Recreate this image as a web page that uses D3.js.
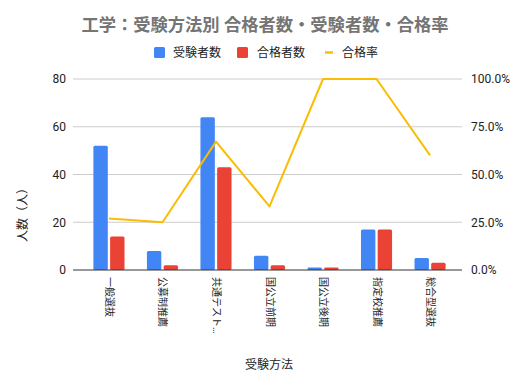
<!DOCTYPE html>
<html><head><meta charset="utf-8">
<script src="https://cdn.jsdelivr.net/npm/d3@7"></script>
<style>body{margin:0;background:#fff;}text{font-family:Roboto,"Noto Sans CJK JP",sans-serif;}</style>
</head><body>
<script>
const categories = ["一般選抜","公募制推薦","共通テスト…","国公立前期","国公立後期","指定校推薦","総合型選抜"];
const applicants = [52, 8, 64, 6, 1, 17, 5];
const passers = [14, 2, 43, 2, 1, 17, 3];
const passRate = [0.269, 0.25, 0.672, 0.333, 1.0, 1.0, 0.6];
const leftTicks = [0, 20, 40, 60, 80];
const rightTicks = [0, 0.25, 0.5, 0.75, 1.0];
const seriesNames = ["受験者数","合格者数","合格率"];
const colors = ["#4285F4","#EA4335","#FBBC04"];

const W = 529, H = 391;
const svg = d3.select("body").append("svg").attr("width", W).attr("height", H);
const gx0 = 73, gx1 = 462, plotTop = 79, plotBottom = 270;

const x = d3.scaleBand().domain(categories).range([82.2, 456.8]).paddingInner(0).paddingOuter(0);
const yL = d3.scaleLinear().domain([0, 80]).range([plotBottom, plotTop]);
const yR = d3.scaleLinear().domain([0, 1]).range([plotBottom, plotTop]);

// gridlines
svg.append("g").selectAll("line").data(leftTicks.filter(d => d !== 0)).join("line")
  .attr("x1", gx0).attr("x2", gx1).attr("y1", d => yL(d)).attr("y2", d => yL(d))
  .attr("stroke", "#cccccc").attr("stroke-width", 1);

// left axis
const axL = d3.axisLeft(yL).tickValues(leftTicks).tickSize(0).tickPadding(6);
const gL = svg.append("g").attr("transform", `translate(${gx0},0)`).call(axL);
gL.select(".domain").remove();
gL.selectAll("text").attr("font-size", 12).attr("fill", "#222").attr("x", -7);

// right axis
const axR = d3.axisRight(yR).tickValues(rightTicks).tickSize(0).tickFormat(d => (d*100).toFixed(1) + "%");
const gR = svg.append("g").attr("transform", `translate(${gx1},0)`).call(axR);
gR.select(".domain").remove();
gR.selectAll("text").attr("font-size", 12).attr("fill", "#222").attr("x", 9);

// bars
const bw = 14.4, gap = 2.3;
const bars = svg.append("g");
bars.selectAll(".a").data(categories).join("rect")
  .attr("x", (d) => x(d) + x.bandwidth()/2 - gap/2 - bw)
  .attr("y", (d, i) => yL(applicants[i]))
  .attr("width", bw).attr("height", (d, i) => plotBottom - yL(applicants[i]))
  .attr("fill", colors[0]).attr("rx", 1.5);
bars.selectAll(".p").data(categories).join("rect")
  .attr("x", (d) => x(d) + x.bandwidth()/2 + gap/2)
  .attr("y", (d, i) => yL(passers[i]))
  .attr("width", bw).attr("height", (d, i) => plotBottom - yL(passers[i]))
  .attr("fill", colors[1]).attr("rx", 1.5);

// baseline
svg.append("line").attr("x1", gx0).attr("x2", gx1).attr("y1", plotBottom).attr("y2", plotBottom)
  .attr("stroke", "#333").attr("stroke-width", 1);

// line
const line = d3.line().x((d, i) => x(categories[i]) + x.bandwidth()/2).y(d => yR(d));
svg.append("path").datum(passRate).attr("d", line)
  .attr("fill", "none").attr("stroke", colors[2]).attr("stroke-width", 2).attr("stroke-linejoin", "round");

// x labels
svg.append("g").selectAll("text").data(categories).join("text")
  .attr("transform", d => `translate(${x(d) + x.bandwidth()/2 - 3},277) rotate(90)`)
  .attr("font-size", 10).attr("fill", "#222").attr("text-anchor", "start")
  .text(d => d);

// title
svg.append("text").attr("x", 265).attr("y", 31).attr("text-anchor", "middle")
  .attr("font-size", 17.3).attr("font-weight", "bold").attr("fill", "#757575")
  .text("工学：受験方法別 合格者数・受験者数・合格率");

// legend
const lg = svg.append("g");
lg.append("rect").attr("x", 154).attr("y", 47).attr("width", 11).attr("height", 11).attr("rx", 1.5).attr("fill", colors[0]);
lg.append("text").attr("x", 173).attr("y", 57).attr("font-size", 12).attr("fill", "#222").text(seriesNames[0]);
lg.append("rect").attr("x", 237).attr("y", 47).attr("width", 11).attr("height", 11).attr("rx", 1.5).attr("fill", colors[1]);
lg.append("text").attr("x", 257).attr("y", 57).attr("font-size", 12).attr("fill", "#222").text(seriesNames[1]);
lg.append("line").attr("x1", 325).attr("x2", 333).attr("y1", 52.5).attr("y2", 52.5).attr("stroke", colors[2]).attr("stroke-width", 2.5);
lg.append("text").attr("x", 342).attr("y", 57).attr("font-size", 12).attr("fill", "#222").text(seriesNames[2]);

// axis titles
svg.append("text").attr("transform", "translate(27,212) rotate(-90)").attr("text-anchor", "middle")
  .attr("font-size", 12).attr("fill", "#222").text("人数（人）");
svg.append("text").attr("x", 269).attr("y", 369).attr("text-anchor", "middle")
  .attr("font-size", 12).attr("fill", "#222").text("受験方法");
</script>
</body></html>
